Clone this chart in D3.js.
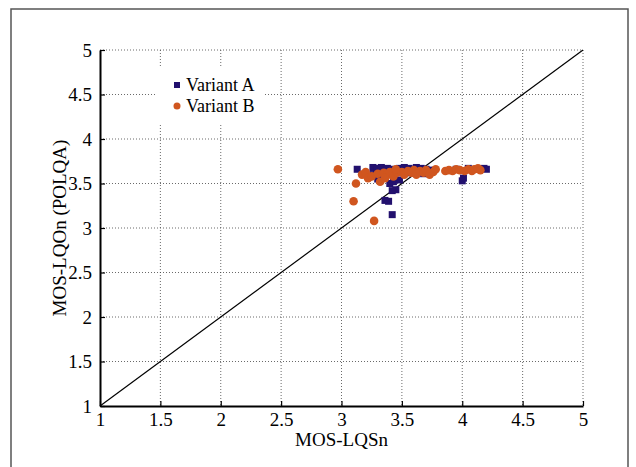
<!DOCTYPE html>
<html>
<head>
<meta charset="utf-8">
<script src="https://cdn.jsdelivr.net/npm/d3@7"></script>
<style>
  body { margin: 0; background: #fff; }
  svg text { font-family: "Liberation Serif", "Times New Roman", Times, "DejaVu Serif", serif; fill: #000; }
</style>
</head>
<body>
<svg width="636" height="467"></svg>
<script>
'use strict'

// tick values for both axes
var ticks = [1, 1.5, 2, 2.5, 3, 3.5, 4, 4.5, 5];

// Variant A (squares): [MOS-LQSn, MOS-LQOn]
var variantA = [
  [3.13, 3.66], [3.26, 3.68], [3.29, 3.67], [3.33, 3.68], [3.38, 3.67],
  [3.42, 3.66], [3.48, 3.67], [3.52, 3.68], [3.56, 3.67], [3.62, 3.68],
  [3.66, 3.67], [3.70, 3.66], [3.75, 3.65], [3.95, 3.66], [4.05, 3.67],
  [4.18, 3.67], [4.20, 3.66], [3.26, 3.60], [3.36, 3.58], [3.30, 3.55],
  [3.40, 3.50], [3.43, 3.52], [3.48, 3.54], [3.45, 3.43], [3.42, 3.42],
  [3.39, 3.30], [3.36, 3.31], [3.42, 3.15], [4.00, 3.53], [4.01, 3.56],
  [3.58, 3.62], [3.68, 3.61], [4.12, 3.66]
];

// Variant B (circles)
var variantB = [
  [2.97, 3.66], [3.12, 3.50], [3.10, 3.30], [3.27, 3.08],
  [3.17, 3.60], [3.20, 3.63], [3.22, 3.56], [3.25, 3.58], [3.30, 3.61],
  [3.32, 3.52], [3.35, 3.62], [3.38, 3.60], [3.40, 3.63], [3.43, 3.58],
  [3.46, 3.62], [3.50, 3.63], [3.52, 3.60], [3.55, 3.64], [3.58, 3.62],
  [3.60, 3.65], [3.62, 3.60], [3.65, 3.64], [3.68, 3.62], [3.70, 3.65],
  [3.73, 3.60], [3.76, 3.63], [3.78, 3.66], [3.86, 3.64], [3.89, 3.65],
  [3.92, 3.64], [3.95, 3.66], [3.98, 3.65], [4.02, 3.64], [4.05, 3.66],
  [4.08, 3.64], [4.10, 3.66], [4.13, 3.67], [4.15, 3.65], [3.45, 3.66],
  [3.36, 3.56]
];

var seriesNames = ["Variant A", "Variant B"];
var colA = "#22106e", colB = "#d0561f";
var serif = "'Liberation Serif', 'Times New Roman', Times, 'DejaVu Serif', serif";

var svg = d3.select("svg");

// outer frame
svg.append("rect")
  .attr("x", 11).attr("y", 9)
  .attr("width", 617).attr("height", 470)
  .attr("fill", "none")
  .attr("stroke", "#555")
  .attr("stroke-width", 1.5);

var margin = {top: 50, left: 100},
  width = 483,
  height = 356;

var x = d3.scaleLinear().domain([1, 5]).range([0, width]),
  y = d3.scaleLinear().domain([1, 5]).range([height, 0]);

var g = svg.append("g")
  .attr("transform", "translate(" + margin.left + "," + margin.top + ")");

// dotted grid
var grid = g.append("g").attr("class", "grid");
grid.selectAll(".gx")
  .data(ticks.slice(1))
  .enter().append("line")
  .attr("x1", function(d) { return x(d); })
  .attr("x2", function(d) { return x(d); })
  .attr("y1", 0).attr("y2", height);
grid.selectAll(".gy")
  .data(ticks.slice(1))
  .enter().append("line")
  .attr("y1", function(d) { return y(d); })
  .attr("y2", function(d) { return y(d); })
  .attr("x1", 0).attr("x2", width);
grid.selectAll("line")
  .attr("stroke", "#444")
  .attr("stroke-width", 0.8)
  .attr("stroke-dasharray", "1,2");

// legend background (hides grid behind it)
g.append("rect")
  .attr("x", 57).attr("y", 18)
  .attr("width", 108).attr("height", 56)
  .attr("fill", "#fff");

// identity line
g.append("line")
  .attr("x1", x(1)).attr("y1", y(1))
  .attr("x2", x(5)).attr("y2", y(5))
  .attr("stroke", "#000")
  .attr("stroke-width", 1.2);

// axes
var xAxis = d3.axisBottom(x).tickValues(ticks).tickSizeInner(-5).tickSizeOuter(0).tickPadding(7)
  .tickFormat(d3.format("~g"));
var yAxis = d3.axisLeft(y).tickValues(ticks).tickSizeInner(-5).tickSizeOuter(0).tickPadding(8)
  .tickFormat(d3.format("~g"));

var gx = g.append("g")
  .attr("transform", "translate(0," + height + ")")
  .call(xAxis);
var gy = g.append("g").call(yAxis);

[gx, gy].forEach(function(a) {
  a.attr("font-family", serif).attr("font-size", 19);
  a.select(".domain").attr("stroke", "#000").attr("stroke-width", 2);
  a.selectAll(".tick line").attr("stroke", "#000").attr("stroke-width", 1.2);
  a.selectAll(".tick text")
    .style("font-family", serif)
    .style("font-size", "19px");
});

// points
g.selectAll(".ptA")
  .data(variantA)
  .enter().append("rect")
  .attr("class", "ptA")
  .attr("x", function(d) { return x(d[0]) - 3.5; })
  .attr("y", function(d) { return y(d[1]) - 3.5; })
  .attr("width", 7).attr("height", 7)
  .attr("fill", colA);

g.selectAll(".ptB")
  .data(variantB)
  .enter().append("circle")
  .attr("class", "ptB")
  .attr("cx", function(d) { return x(d[0]); })
  .attr("cy", function(d) { return y(d[1]); })
  .attr("r", 4.3)
  .attr("fill", colB);

// legend
var legend = g.append("g").attr("transform", "translate(77,35)");
legend.append("rect")
  .attr("x", -3).attr("y", -3).attr("width", 6).attr("height", 6)
  .attr("fill", colA);
legend.append("circle")
  .attr("cx", 0).attr("cy", 21).attr("r", 3.5)
  .attr("fill", colB);
legend.selectAll("text")
  .data(seriesNames)
  .enter().append("text")
  .attr("x", 9)
  .attr("y", function(d, i) { return i * 21 + 6; })
  .style("font-family", serif)
  .style("font-size", "18px")
  .text(function(d) { return d; });

// axis titles
svg.append("text")
  .attr("x", margin.left + width / 2)
  .attr("y", 446)
  .attr("text-anchor", "middle")
  .style("font-family", serif)
  .style("font-size", "19px")
  .text("MOS-LQSn");

svg.append("text")
  .attr("transform", "translate(66," + (margin.top + height / 2) + ") rotate(-90)")
  .attr("text-anchor", "middle")
  .style("font-family", serif)
  .style("font-size", "19px")
  .text("MOS-LQOn (POLQA)");
</script>
</body>
</html>
